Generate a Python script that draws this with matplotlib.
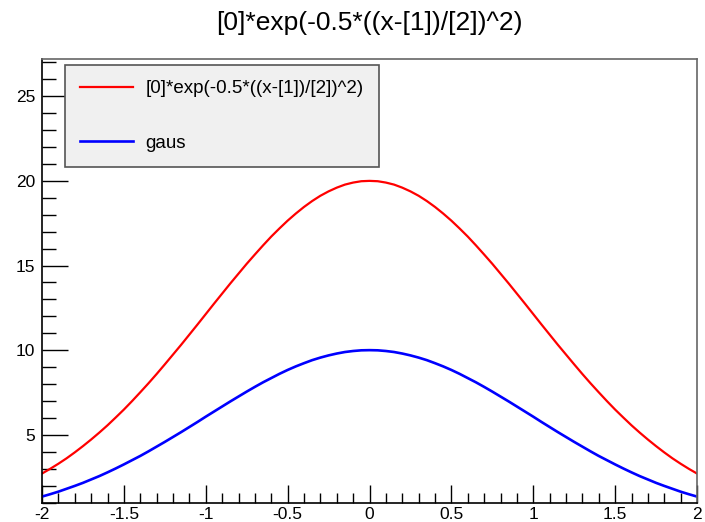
import matplotlib
matplotlib.use("Agg")
import matplotlib.pyplot as plt
from matplotlib.ticker import MultipleLocator

plt.rcParams['font.family'] = ['Liberation Sans', 'DejaVu Sans']

title = "[0]*exp(-0.5*((x-[1])/[2])^2)"
labels = ["[0]*exp(-0.5*((x-[1])/[2])^2)", "gaus"]

# x positions from 2.0 down to 0.05 (right half), mirrored for the left half
x_half = [2.0, 1.95, 1.9, 1.85, 1.8, 1.75, 1.7, 1.65, 1.6, 1.55, 1.5, 1.45, 1.4,
          1.35, 1.3, 1.25, 1.2, 1.15, 1.1, 1.05, 1.0, 0.95, 0.9, 0.85, 0.8, 0.75,
          0.7, 0.65, 0.6, 0.55, 0.5, 0.45, 0.4, 0.35, 0.3, 0.25, 0.2, 0.15, 0.1, 0.05]

red_half = [2.71, 2.99, 3.29, 3.61, 3.96, 4.33, 4.72, 5.13, 5.56, 6.02, 6.49, 6.99,
            7.51, 8.04, 8.59, 9.16, 9.74, 10.32, 10.92, 11.52, 12.13, 12.74, 13.34,
            13.94, 14.52, 15.10, 15.65, 16.19, 16.71, 17.19, 17.65, 18.07, 18.46,
            18.81, 19.12, 19.38, 19.60, 19.78, 19.90, 19.98]
red_peak = 20.0

blue_half = [1.35, 1.49, 1.64, 1.81, 1.98, 2.16, 2.36, 2.56, 2.78, 3.01, 3.25, 3.50,
             3.75, 4.02, 4.30, 4.58, 4.87, 5.16, 5.46, 5.76, 6.07, 6.37, 6.67, 6.97,
             7.26, 7.55, 7.83, 8.10, 8.35, 8.60, 8.83, 9.04, 9.23, 9.41, 9.56, 9.69,
             9.80, 9.89, 9.95, 9.99]
blue_peak = 10.0

x_vals = [-v for v in x_half] + [0.0] + x_half[::-1]
red_vals = red_half + [red_peak] + red_half[::-1]
blue_vals = blue_half + [blue_peak] + blue_half[::-1]

fig = plt.figure(figsize=(7.05, 5.22), dpi=100)
ax = fig.add_axes([42/705, 1-502.5/522, (697-42)/705, (502.5-59)/522])

ax.plot(x_vals, red_vals, color='#ff0000', lw=1.6, label=labels[0], solid_joinstyle='round')
ax.plot(x_vals, blue_vals, color='#0000ff', lw=1.9, label=labels[1], solid_joinstyle='round')

ax.set_xlim(-2, 2)
ax.set_ylim(1.0, 27.2)

ax.xaxis.set_major_locator(MultipleLocator(0.5))
ax.xaxis.set_minor_locator(MultipleLocator(0.1))
ax.yaxis.set_major_locator(MultipleLocator(5))
ax.yaxis.set_minor_locator(MultipleLocator(1))
ax.set_yticks([5, 10, 15, 20, 25])

ax.tick_params(axis='x', which='major', direction='in', length=13, width=1, labelsize=12.5, pad=3)
ax.tick_params(axis='x', which='minor', direction='in', length=7, width=1)
ax.tick_params(axis='y', which='major', direction='in', length=19, width=1, labelsize=12.5, pad=5)
ax.tick_params(axis='y', which='minor', direction='in', length=10, width=1)
ax.set_xticks([-2, -1.5, -1, -0.5, 0, 0.5, 1, 1.5, 2])
ax.set_xticklabels(['-2', '-1.5', '-1', '-0.5', '0', '0.5', '1', '1.5', '2'])

for s in ['left', 'bottom']:
    ax.spines[s].set_color('black')
    ax.spines[s].set_linewidth(1.2)
for s in ['top', 'right']:
    ax.spines[s].set_color('#666666')
    ax.spines[s].set_linewidth(1.2)

fig.text(369.5/705, 1-23/522, title, ha='center', va='center', fontsize=19)

leg = ax.legend(loc='upper left', bbox_to_anchor=((65-42)/655, (502.5-65)/443.5),
                frameon=True, fancybox=False, fontsize=13.5, handlelength=2.8,
                handletextpad=0.7, labelspacing=2.0, borderpad=0.8, borderaxespad=0)
leg.get_frame().set_facecolor('#f0f0f0')
leg.get_frame().set_edgecolor('#555555')
leg.get_frame().set_linewidth(1.2)
leg.get_frame().set_alpha(1)

fig.savefig('out.png', dpi=100)
